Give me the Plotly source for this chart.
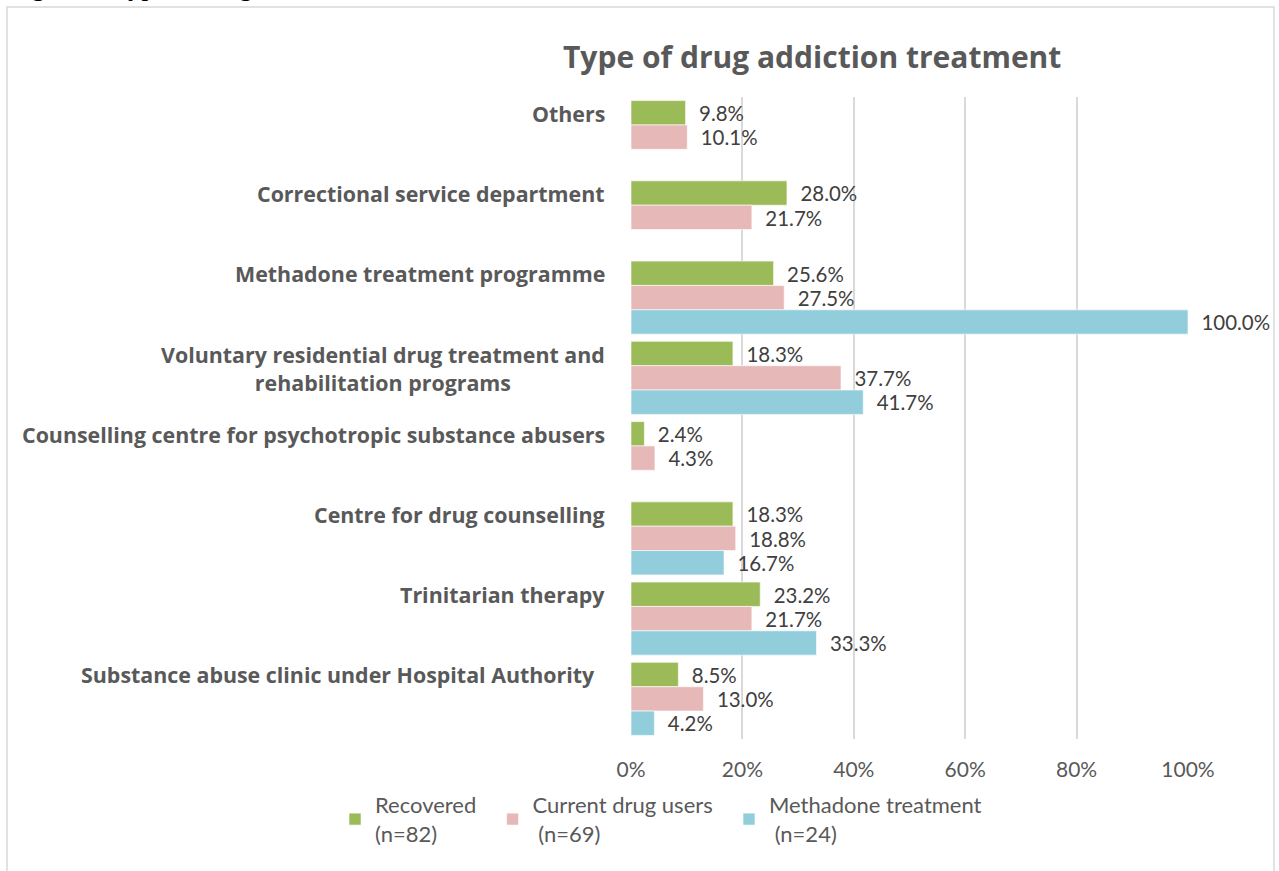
import plotly.graph_objects as go

categories = [
    "Others",
    "Correctional service department",
    "Methadone treatment programme",
    "Voluntary residential drug treatment and<br>rehabilitation programs",
    "Counselling centre for psychotropic substance abusers",
    "Centre for drug counselling",
    "Trinitarian therapy",
    "Substance abuse clinic under Hospital Authority\u00a0\u00a0",
]
recovered = [9.8, 28.0, 25.6, 18.3, 2.4, 18.3, 23.2, 8.5]
current_users = [10.1, 21.7, 27.5, 37.7, 4.3, 18.8, 21.7, 13.0]
methadone = [None, None, 100.0, 41.7, None, 16.7, 33.3, 4.2]
series_names = [
    "Recovered\u00a0\u00a0<br>(n=82)",
    "Current drug users\u00a0\u00a0<br> (n=69)",
    "Methadone treatment<br> (n=24)",
]
x_ticks = [0, 20, 40, 60, 80, 100]
x_tick_labels = ["0%", "20%", "40%", "60%", "80%", "100%"]

colors = ["#9BBB59", "#E6B9B8", "#92CDDC"]
FONT = "Lato"
BOLD = "Open Sans"
GRAY = "#595959"
LABEL = "#404040"

fig = go.Figure()
for name, vals, col in zip(series_names, [recovered, current_users, methadone], colors):
    fig.add_trace(go.Bar(
        y=list(range(len(categories))),
        x=vals,
        orientation="h",
        name=name,
        marker=dict(color=col, line=dict(color="rgba(255,255,255,0.6)", width=1)),
        text=[("\u00a0\u00a0" + f"{v:.1f}%") if v is not None else "" for v in vals],
        textposition="outside",
        textfont=dict(family=FONT, size=21, color=LABEL),
        cliponaxis=False,
        hoverinfo="skip",
    ))

annotations = []
for i, c in enumerate(categories):
    nlines = c.count("<br>") + 1
    annotations.append(dict(
        x=0, xref="paper", y=i, yref="y",
        text=c, showarrow=False, xanchor="right", yanchor="middle",
        align="center", xshift=-24, yshift=24 - 15 * (nlines - 1),
        font=dict(family=BOLD, size=21.4, color=GRAY, weight="bold"),
    ))
annotations.append(dict(
    x=(812 - 631) / 557, xref="paper", y=(739 - 57) / 642, yref="paper",
    text="Type of drug addiction treatment", showarrow=False,
    xanchor="center", yanchor="middle",
    font=dict(family=BOLD, size=30, color=GRAY, weight="bold"),
))
annotations.append(dict(
    x=(7 - 631) / 557, xref="paper", y=(739 - 3) / 642, yref="paper",
    text="Figure 3: Type of drug addiction treatment", showarrow=False,
    xanchor="left", yanchor="bottom",
    font=dict(family="Liberation Serif", size=27, color="#000000"),
))

fig.update_layout(
    width=1279, height=871,
    margin=dict(l=631, r=91, t=97, b=132),
    paper_bgcolor="white", plot_bgcolor="white",
    barmode="group", bargap=0.09, bargroupgap=0,
    showlegend=True,
    legend=dict(
        orientation="h", x=(335 - 631) / 557, xanchor="left",
        y=(739 - 784) / 642, yanchor="top",
        font=dict(family=FONT, size=22, color=GRAY),
        itemwidth=30, traceorder="normal",
    ),
    xaxis=dict(
        range=[0, 100], tickvals=x_ticks, ticktext=x_tick_labels,
        showgrid=True, gridcolor="#D9D9D9", gridwidth=1.5,
        zeroline=False, showline=False,
        ticks="outside", ticklen=12, tickcolor="rgba(0,0,0,0)",
        tickfont=dict(family=FONT, size=21, color=GRAY),
    ),
    yaxis=dict(
        range=[len(categories) - 0.5, -0.5],
        showticklabels=False, showgrid=False, zeroline=False, showline=False,
    ),
    annotations=annotations,
    shapes=[dict(
        type="rect", xref="paper", yref="paper",
        x0=(7 - 631) / 557, x1=(1274 - 631) / 557,
        y0=(739 - 900) / 642, y1=(739 - 7) / 642,
        line=dict(color="#D9D9D9", width=1.5), fillcolor="rgba(0,0,0,0)", layer="below",
    )],
)
fig.write_html("out.html")
